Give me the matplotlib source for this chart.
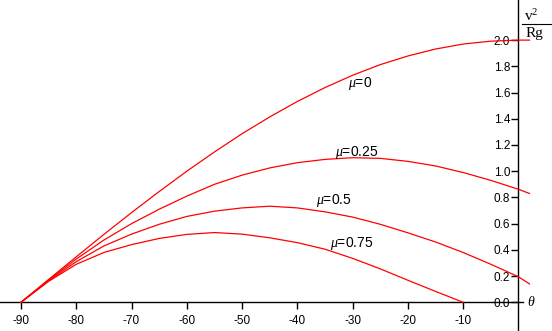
import matplotlib
matplotlib.use("Agg")
import matplotlib.pyplot as plt

plt.rcParams["font.family"] = ["Liberation Sans", "DejaVu Sans"]
plt.rcParams["mathtext.fontset"] = "custom"
plt.rcParams["mathtext.it"] = "Liberation Serif:italic"
plt.rcParams["mathtext.rm"] = "Liberation Serif"

# angle theta (degrees) and v^2/(Rg)
theta = [-90, -85, -80, -75, -70, -65, -60, -55, -50, -45,
         -40, -35, -30, -25, -20, -15, -10, -5, 0, 2]
mu_0 = [0.0, 0.174, 0.347, 0.518, 0.684, 0.845, 1.00, 1.147, 1.286, 1.414,
        1.532, 1.638, 1.732, 1.813, 1.879, 1.932, 1.97, 1.992, 2.00, 2.00]
mu_025 = [0.0, 0.17, 0.33, 0.475, 0.60, 0.71, 0.81, 0.90, 0.97, 1.025,
          1.065, 1.09, 1.103, 1.098, 1.075, 1.04, 0.99, 0.93, 0.862, 0.83]
mu_05 = [0.0, 0.165, 0.31, 0.43, 0.52, 0.595, 0.655, 0.695, 0.72, 0.733,
         0.72, 0.69, 0.65, 0.595, 0.53, 0.46, 0.38, 0.29, 0.195, 0.14]
theta_075 = theta[:17]
mu_075 = [0.0, 0.16, 0.29, 0.38, 0.44, 0.487, 0.518, 0.532, 0.52, 0.492,
          0.455, 0.405, 0.335, 0.255, 0.168, 0.083, 0.0]

xticks = [-90, -80, -70, -60, -50, -40, -30, -20, -10]
yticks = [0.0, 0.2, 0.4, 0.6, 0.8, 1.0, 1.2, 1.4, 1.6, 1.8, 2.0]

fig = plt.figure(figsize=(5.52, 3.31), dpi=100)
ax = fig.add_axes([0, 0, 1, 1])
ax.set_xlim(-93.8, 6.07)
ax.set_ylim(-0.219, 2.306)

for ys, xs in [(mu_0, theta), (mu_025, theta), (mu_05, theta), (mu_075, theta_075)]:
    ax.plot(xs, ys, color="red", lw=0.9, zorder=3)

ax.spines["top"].set_visible(False)
ax.spines["right"].set_visible(False)
ax.spines["left"].set_position(("data", 0))
ax.spines["bottom"].set_position(("data", 0))
ax.spines["left"].set_bounds(-0.22, 2.31)
ax.spines["bottom"].set_bounds(-93.8, 0.8)
for s in ["left", "bottom"]:
    ax.spines[s].set_linewidth(1)

ax.set_xticks(xticks)
ax.set_xticklabels([str(t) for t in xticks])
ax.set_yticks(yticks)
ax.set_yticklabels([f"{t:.1f}" for t in yticks])
ax.tick_params(direction="out", length=5, width=1, labelsize=8.5)
ax.tick_params(axis="x", pad=4)
ax.tick_params(axis="y", pad=1)

ax.text(-30.9, 1.669, r"$\mu$=0", fontsize=10, va="center", ha="left")
ax.text(-33.2, 1.146, r"$\mu$=0.25", fontsize=10, va="center", ha="left")
ax.text(-36.6, 0.78, r"$\mu$=0.5", fontsize=10, va="center", ha="left")
ax.text(-34.1, 0.452, r"$\mu$=0.75", fontsize=10, va="center", ha="left")

ax.text(2.26, 0.0, r"$\theta$", fontsize=10, va="center", ha="center")
ax.text(2.26, 2.148, r"$\mathregular{v^2}$", family="Liberation Serif",
        fontsize=11, va="baseline", ha="center")
ax.text(2.9, 2.024, "Rg", family="Liberation Serif", fontsize=11,
        va="baseline", ha="center")
ax.plot([0.6, 5.9], [2.123, 2.123], color="black", lw=0.8, clip_on=False)

fig.savefig("out.png", dpi=100)
